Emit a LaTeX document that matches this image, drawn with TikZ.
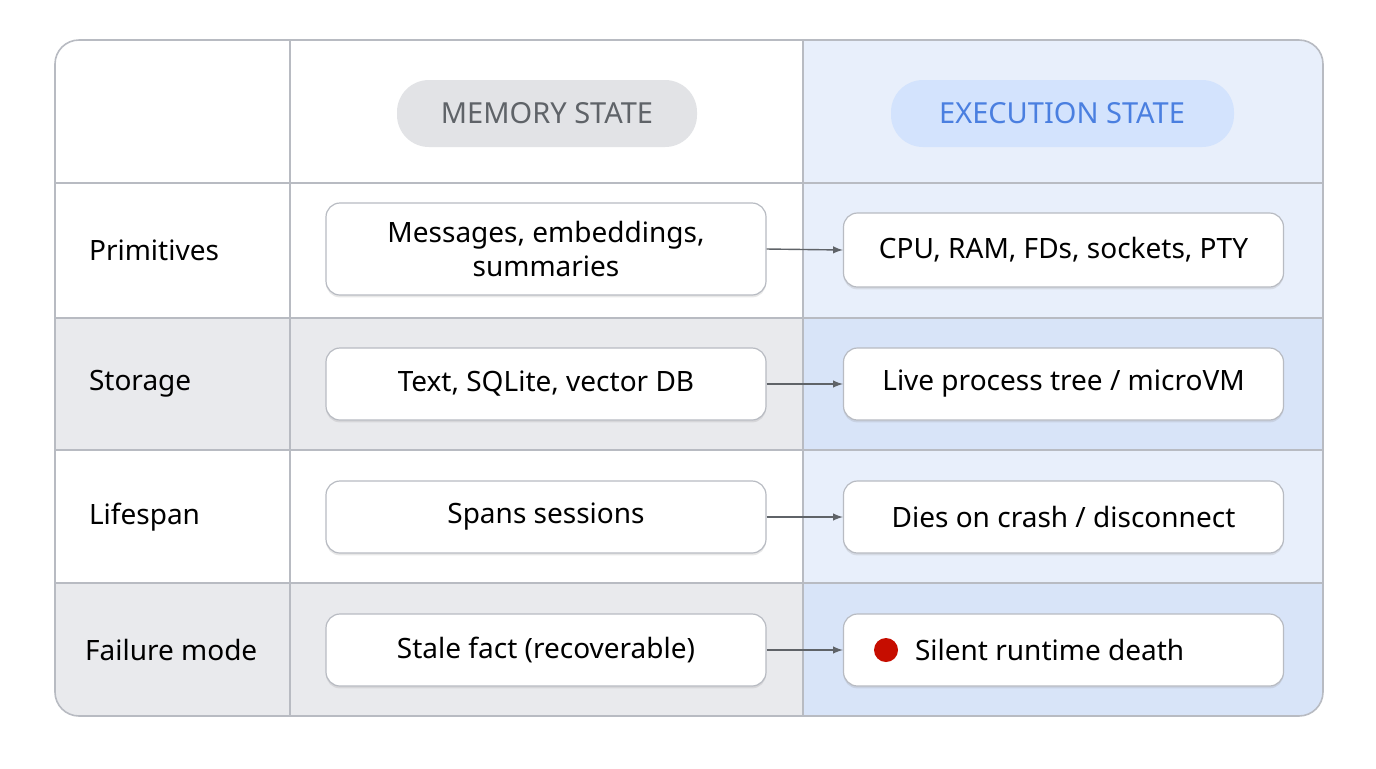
\documentclass[tikz,border=0pt]{standalone}
\usepackage{fontspec}
\setmainfont{Noto Sans}
\usetikzlibrary{shadows}
\definecolor{rowgrey}{HTML}{E9EAED}
\definecolor{colblue}{HTML}{E8EFFB}
\definecolor{colbluedk}{HTML}{D8E4F8}
\definecolor{gridline}{HTML}{B8BBC2}
\definecolor{pillgrey}{HTML}{E2E3E6}
\definecolor{pillblue}{HTML}{D3E3FD}
\definecolor{txtgrey}{HTML}{5F6368}
\definecolor{txtblue}{HTML}{4A7FE0}
\tikzset{
  cell/.style={draw=gridline, line width=0.6pt, rounded corners=7pt, fill=white,
    drop shadow={shadow xshift=0pt, shadow yshift=-1.2pt, opacity=0.18}},
  rowlabel/.style={anchor=west, font=\fontsize{14}{16}\selectfont},
  boxtext/.style={align=center, font=\fontsize{14}{17}\selectfont},
  pill/.style={rounded corners=16pt, font=\fontsize{14.5}{16}\selectfont},
  link/.style={draw=txtgrey, line width=0.7pt, -latex}
}
\begin{document}
\begin{tikzpicture}[x=0.5pt, y=-0.5pt]
  \useasboundingbox (0,0) rectangle (1376,768);
  % backgrounds
  \begin{scope}
    \clip[rounded corners=12pt] (55,40) rectangle (1323,716);
    \fill[white] (55,40) rectangle (1323,716);
    \fill[rowgrey] (55,318) rectangle (803,450);
    \fill[rowgrey] (55,583) rectangle (803,716);
    \fill[colblue] (803,40) rectangle (1323,716);
    \fill[colbluedk] (803,318) rectangle (1323,450);
    \fill[colbluedk] (803,583) rectangle (1323,716);
    \foreach \y in {183,318,450,583} \draw[gridline, line width=0.6pt] (55,\y) -- (1323,\y);
    \foreach \x in {290,803} \draw[gridline, line width=0.6pt] (\x,40) -- (\x,716);
  \end{scope}
  \draw[gridline, line width=0.8pt, rounded corners=12pt] (55,40) rectangle (1323,716);
  % header
  \fill[pillgrey, rounded corners=16pt] (397,80) rectangle (697,147);
  \node[text=txtgrey, font=\fontsize{14.5}{16}\selectfont] (memhead) at (547,113.5) {MEMORY STATE};
  \fill[pillblue, rounded corners=16pt] (891,80) rectangle (1234,147);
  \node[text=txtblue, font=\fontsize{14.5}{16}\selectfont] (exehead) at (1062,113.5) {EXECUTION STATE};
  % rows
  \node[rowlabel] (lprim) at (82,250) {Primitives};
  \node[rowlabel] (lstor) at (82,384) {Storage};
  \node[rowlabel] (llife) at (82,517) {Lifespan};
  \node[rowlabel] (lfail) at (78,650) {Failure mode};
  \node[cell, minimum width=220pt, minimum height=46pt] (mprim) at (546,249) {};
  \node[boxtext] at (mprim) {Messages, embeddings,\\summaries};
  \node[cell, minimum width=220pt, minimum height=37pt] (eprim) at (1063.5,250) {};
  \node[boxtext] at (eprim) {CPU, RAM, FDs, sockets, PTY};
  \node[cell, minimum width=220pt, minimum height=36pt] (mstor) at (546,384) {};
  \node[boxtext] at (mstor) {Text, SQLite, vector DB};
  \node[cell, minimum width=220pt, minimum height=36pt] (estor) at (1063.5,384) {};
  \node[boxtext] at (estor) {Live process tree / microVM};
  \node[cell, minimum width=220pt, minimum height=36pt] (mlife) at (546,517) {};
  \node[boxtext] at (mlife) {Spans sessions};
  \node[cell, minimum width=220pt, minimum height=36pt] (elife) at (1063.5,517) {};
  \node[boxtext] at (elife) {Dies on crash / disconnect};
  \node[cell, minimum width=220pt, minimum height=36pt] (mfail) at (546,650) {};
  \node[boxtext] at (mfail) {Stale fact (recoverable)};
  \node[cell, minimum width=220pt, minimum height=36pt] (efail) at (1063.5,650) {};
  \node[boxtext, anchor=west] (tfail) at (908,650) {Silent runtime death};
  \fill[red!75!black!90!orange] (886,650) circle (12);
  % arrows
  \foreach \a/\b in {mprim/eprim, mstor/estor, mlife/elife, mfail/efail}
    \draw[link] (\a.east) -- (\b.west);
\end{tikzpicture}
\end{document}
